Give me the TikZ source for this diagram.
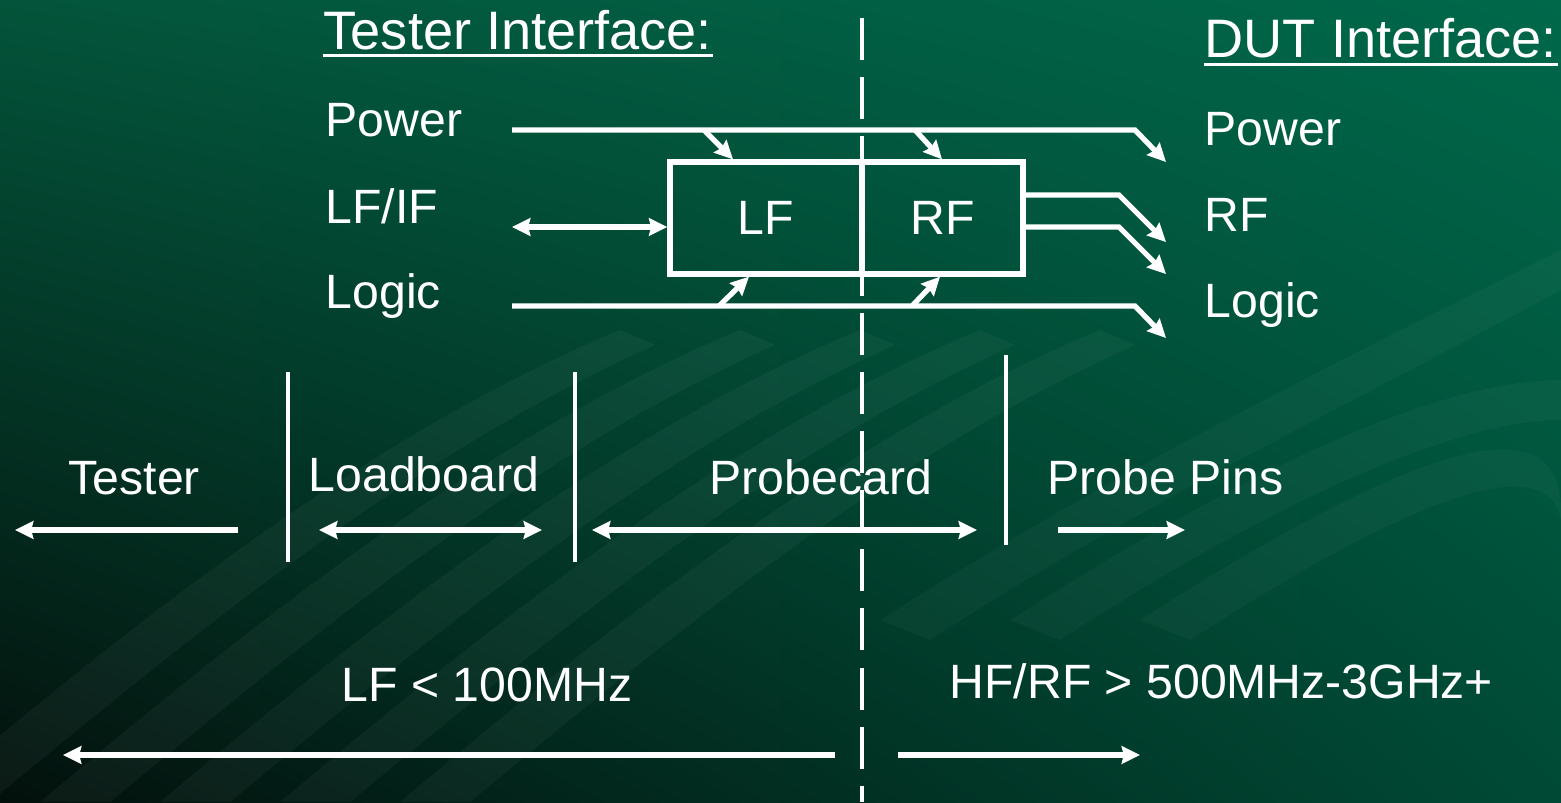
\documentclass[tikz,border=0pt]{standalone}
\usepackage{fontspec}
\setmainfont{Liberation Sans}
\usetikzlibrary{arrows.meta,shadings}
\begin{document}
\begin{tikzpicture}[x=0.01cm, y=-0.01cm, line join=miter,
  wire/.style={white, line width=1.5pt},
  sep/.style={white, line width=1.3pt},
  tip/.style={-{Stealth[length=5.2pt,width=5pt,inset=0.6pt]}},
  both/.style={{Stealth[length=5.2pt,width=5pt,inset=0.6pt]}-{Stealth[length=5.2pt,width=5pt,inset=0.6pt]}},
  lbl/.style={text=white, inner sep=0pt, font=\fontsize{13.7}{16}\selectfont},
  head/.style={text=white, inner sep=0pt, font=\fontsize{15.4}{18}\selectfont},
  cell/.style={draw=white, line width=1.5pt, inner sep=0pt, minimum height=1.12cm}]
  \definecolor{slidetl}{RGB}{3,84,58}
  \definecolor{slidetr}{RGB}{0,104,74}
  \definecolor{slidebl}{RGB}{3,16,12}
  \definecolor{slidebr}{RGB}{0,74,53}
  \useasboundingbox (0,0) rectangle (1561,802);
  \shade[upper left=slidetl, upper right=slidetr, lower left=slidebl, lower right=slidebr] (0,0) rectangle (1561,802);
  \foreach \s in {-80,40,160,280,400} {
    \fill[white, opacity=0.04] (\s,802) .. controls (\s+240,600) and (\s+460,430) .. (\s+700,330)
      -- (\s+735,345) .. controls (\s+500,450) and (\s+290,620) .. (\s+70,802) -- cycle;
  }
  \foreach \s in {0,130,260} {
    \fill[white, opacity=0.03] (880+\s,620) .. controls (1100+\s,480) and (1300+\s,380) .. (1561,250+\s)
      -- (1561,290+\s) .. controls (1320+\s,420) and (1130+\s,510) .. (930+\s,640) -- cycle;
  }
  \draw[white, line width=1.1pt, dash pattern=on 11.95pt off 4.84pt] (862,18) -- (862,802);
  \node[head, anchor=base west] (thdr) at (323,49) {Tester Interface:};
  \node[head, anchor=base west] (dhdr) at (1204,57) {DUT Interface:};
  \draw[white, line width=0.9pt] ([yshift=-1.8pt]thdr.base west) -- ([yshift=-1.8pt]thdr.base east);
  \draw[white, line width=0.9pt] ([yshift=-2.2pt]dhdr.base west) -- ([yshift=-2.2pt]dhdr.base east);
  \node[lbl, anchor=base west] (pwL) at (325,136) {Power};
  \node[lbl, anchor=base west] (lfL) at (325,223) {LF/IF};
  \node[lbl, anchor=base west] (lgL) at (325,308) {Logic};
  \node[lbl, anchor=base west] (pwR) at (1204,145) {Power};
  \node[lbl, anchor=base west] (rfR) at (1204,231) {RF};
  \node[lbl, anchor=base west] (lgR) at (1204,317) {Logic};
  \node[lbl, cell, minimum width=1.92cm] (lfc) at (766,218) {LF};
  \node[lbl, cell, minimum width=1.61cm] (rfc) at (942.5,218) {RF};
  \coordinate (pwS) at (512,130);
  \coordinate (pwK) at (1135,130);
  \coordinate (pwT) at (1166,162);
  \coordinate (lgS) at (512,306);
  \coordinate (lgK) at (1135,306);
  \coordinate (lgT) at (1166,338);
  \draw[wire, tip] (pwS) -- (pwK) -- (pwT);
  \draw[wire, tip] (lgS) -- (lgK) -- (lgT);
  \draw[wire, tip] (704,130) -- (lfc.north -| 733,0);
  \draw[wire, tip] (915,130) -- (rfc.north -| 942,0);
  \draw[wire, tip] (719,306) -- (lfc.south -| 749,0);
  \draw[wire, tip] (912,306) -- (rfc.south -| 940,0);
  \draw[wire, tip] (rfc.east |- 0,195) -- (1119,195) -- (1166,242);
  \draw[wire, tip] (rfc.east |- 0,227) -- (1119,227) -- (1166,274);
  \coordinate (lfA) at (512,227);
  \draw[wire, both] (lfA) -- (lfc.west |- lfA);
  \draw[sep] (288,372) -- (288,562);
  \draw[sep] (575,372) -- (575,562);
  \draw[sep] (1006,355) -- (1006,545);
  \node[lbl, anchor=base west] (tst) at (68,494) {Tester};
  \node[lbl, anchor=base west] (ldb) at (308,491) {Loadboard};
  \node[lbl, anchor=base west] (pbc) at (709,494) {Probecard};
  \node[lbl, anchor=base west] (pbp) at (1047,494) {Probe Pins};
  \draw[wire, tip] (238,530) -- (15,530);
  \draw[wire, both] (319,530) -- (542,530);
  \draw[wire, both] (592,530) -- (977,530);
  \draw[wire, tip] (1058,530) -- (1185,530);
  \node[lbl, anchor=base west] (lfb) at (341,701) {LF < 100MHz};
  \node[lbl, anchor=base west] (hfb) at (949,698) {HF/RF > 500MHz-3GHz+};
  \draw[wire, tip] (835,755) -- (63,755);
  \draw[wire, tip] (898,755) -- (1140,755);
\end{tikzpicture}
\end{document}
